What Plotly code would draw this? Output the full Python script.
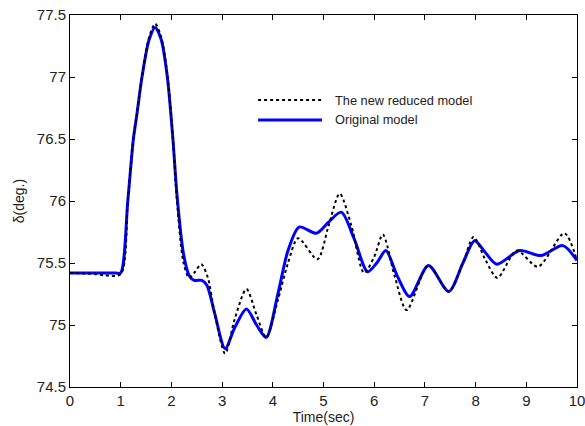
import plotly.graph_objects as go

# Original model (blue solid)
t_orig = [0, 0.9, 1.0, 1.14, 1.25, 1.32, 1.42, 1.56, 1.68, 1.80, 1.92, 2.03, 2.11, 2.24, 2.35, 2.45,
          2.6, 2.7, 2.85, 3.06, 3.25, 3.48, 3.68, 3.87, 4.1, 4.3, 4.52, 4.86, 5.1, 5.35, 5.6,
          5.87, 6.05, 6.23, 6.45, 6.7, 7.07, 7.47, 7.75, 7.98, 8.2, 8.42, 8.87, 9.29, 9.72, 10]
d_orig = [75.42, 75.42, 75.42, 76.0, 76.5, 76.7, 77.0, 77.3, 77.4, 77.3, 77.0, 76.5, 76.05, 75.57, 75.40, 75.36,
          75.36, 75.32, 75.1, 74.81, 74.98, 75.13, 75.0, 74.9, 75.25, 75.6, 75.79, 75.74, 75.83, 75.91, 75.7,
          75.43, 75.5, 75.6, 75.4, 75.23, 75.48, 75.27, 75.5, 75.68, 75.58, 75.49, 75.6, 75.56, 75.64, 75.52]

# New reduced model (black dotted)
t_red = [0, 0.5, 0.7, 1.0, 1.14, 1.25, 1.32, 1.42, 1.56, 1.68, 1.80, 1.92, 2.03, 2.11, 2.24, 2.35, 2.45,
         2.59, 2.72, 2.85, 3.06, 3.25, 3.48, 3.68, 3.87, 4.1, 4.3, 4.5, 4.88, 5.1, 5.32, 5.55, 5.8,
         6.0, 6.17, 6.4, 6.64, 7.07, 7.47, 7.75, 7.96, 8.2, 8.43, 8.81, 9.23, 9.75, 10]
d_red = [75.42, 75.41, 75.40, 75.41, 76.0, 76.5, 76.7, 77.0, 77.32, 77.43, 77.32, 77.02, 76.5, 76.0, 75.5, 75.38, 75.42,
         75.49, 75.38, 75.1, 74.77, 75.05, 75.29, 75.08, 74.9, 75.2, 75.5, 75.7, 75.53, 75.8, 76.06, 75.8, 75.42,
         75.55, 75.73, 75.4, 75.12, 75.48, 75.27, 75.5, 75.71, 75.52, 75.38, 75.6, 75.47, 75.74, 75.52]

x_ticks = list(range(0, 11))
y_ticks = [74.5, 75, 75.5, 76, 76.5, 77, 77.5]
y_tick_text = ["74.5", "75", "75.5", "76", "76.5", "77", "77.5"]

legend_labels = ["The new reduced model", "Original model"]

fig = go.Figure()
fig.add_trace(go.Scatter(x=t_orig, y=d_orig, mode="lines", name=legend_labels[1],
                         line=dict(color="#0000ff", width=3, shape="spline", smoothing=0.8),
                         showlegend=False))
fig.add_trace(go.Scatter(x=t_red, y=d_red, mode="lines", name=legend_labels[0],
                         line=dict(color="black", width=2, dash="dot", shape="spline", smoothing=0.8),
                         showlegend=False))

font = "Liberation Sans, Arial, sans-serif"
axis_common = dict(showline=True, linecolor="black", linewidth=1, mirror="ticks",
                   ticks="inside", ticklen=5, tickcolor="black", showgrid=False, zeroline=False,
                   automargin=False, ticklabeloverflow="allow",
                   tickfont=dict(family=font, size=15, color="#222"))

fig.update_layout(
    width=585, height=426,
    margin=dict(l=70, r=8, t=15, b=39),
    paper_bgcolor="white", plot_bgcolor="white",
    xaxis=dict(range=[0, 10], tickvals=x_ticks, title=dict(text="Time(sec)", standoff=2,
               font=dict(family=font, size=14, color="#222")), **axis_common),
    yaxis=dict(range=[74.5, 77.5], tickvals=y_ticks, ticktext=y_tick_text,
               title=dict(text="δ(deg.)", standoff=8, font=dict(family=font, size=14, color="#222")),
               **axis_common),
)

# manual legend (paper coordinates)
fig.add_shape(type="line", xref="paper", yref="paper", x0=0.371, x1=0.497, y0=0.7715, y1=0.7715,
              line=dict(color="black", width=2, dash="dot"))
fig.add_shape(type="line", xref="paper", yref="paper", x0=0.371, x1=0.497, y0=0.718, y1=0.718,
              line=dict(color="#0000ff", width=3))
fig.add_annotation(xref="paper", yref="paper", x=0.519, y=0.7715, text=legend_labels[0], showarrow=False,
                   xanchor="left", yanchor="middle", font=dict(family=font, size=12.8, color="#222"))
fig.add_annotation(xref="paper", yref="paper", x=0.519, y=0.718, text=legend_labels[1], showarrow=False,
                   xanchor="left", yanchor="middle", font=dict(family=font, size=12.8, color="#222"))

fig.write_html("out.html")
